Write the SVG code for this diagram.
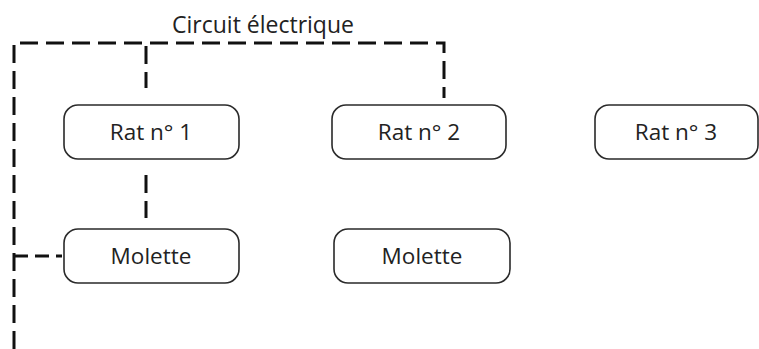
<svg xmlns="http://www.w3.org/2000/svg" width="759" height="349" viewBox="0 0 759 349">
<style>
.box{fill:#fff;stroke:#2a2a2a;stroke-width:1.6}
.lbl{font-family:"Open Sans","Liberation Sans",sans-serif;font-size:22.5px;fill:#222;text-anchor:middle}
.wire{fill:none;stroke:#111;stroke-width:3;stroke-dasharray:18 8}
</style>
<rect width="759" height="349" fill="#fff"/>
<g id="connectors">
<path class="wire" d="M14,349 V43 H444 V98"/>
<path class="wire" d="M146,43 V88" style="stroke-dasharray:18 8;stroke-dashoffset:-3"/>
<path class="wire" d="M146,175 V218"/>
<path class="wire" d="M14,256 H62" style="stroke-dasharray:14 7"/>
</g>
<text class="lbl" x="263" y="33" style="font-size:23px">Circuit électrique</text>
<g id="rat1"><rect class="box" x="64" y="105" width="175" height="54" rx="14"/><text class="lbl" x="151" y="140">Rat n° 1</text></g>
<g id="rat2"><rect class="box" x="332" y="105" width="174" height="54" rx="14"/><text class="lbl" x="419" y="140">Rat n° 2</text></g>
<g id="rat3"><rect class="box" x="595" y="105" width="163" height="54" rx="14"/><text class="lbl" x="676" y="140">Rat n° 3</text></g>
<g id="molette1"><rect class="box" x="64" y="229" width="175" height="54" rx="14"/><text class="lbl" x="151" y="264">Molette</text></g>
<g id="molette2"><rect class="box" x="334" y="229" width="176" height="54" rx="14"/><text class="lbl" x="422" y="264">Molette</text></g>
</svg>
